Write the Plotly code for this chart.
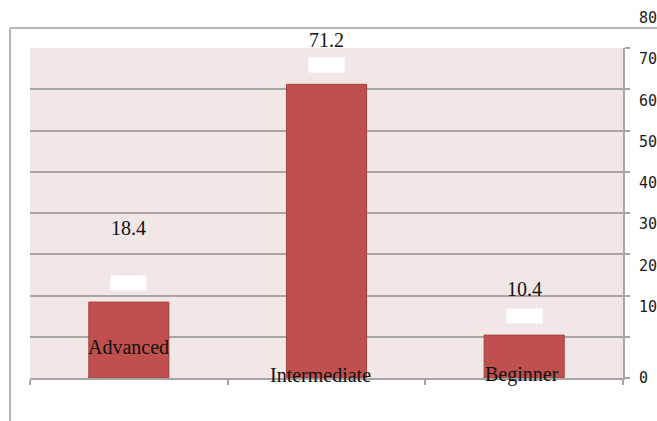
import plotly.graph_objects as go

categories = ["Advanced", "Intermediate", "Beginner"]
values = [18.4, 71.2, 10.4]
value_labels = ["18.4", "71.2", "10.4"]
tick_values = [0, 10, 20, 30, 40, 50, 60, 70, 80]
tick_labels = ["0", "10", "20", "30", "40", "50", "60", "70", "80"]

# style offsets (pixels) reproducing the reference's placement
value_label_shift = [74, 44, 46]
cat_label_shift = [31, 3, 4]
cat_label_xshift = [0, -6, -2]

GRID = "#A6A6A6"
SERIF = "Liberation Serif"

fig = go.Figure()
fig.add_trace(go.Bar(
    x=categories, y=values, width=0.405,
    marker=dict(color="#C0504D", line=dict(color="#A4403D", width=1)),
    hoverinfo="skip",
))

ann = []
for c, v, t, s in zip(categories, values, value_labels, value_label_shift):
    ann.append(dict(x=c, y=v, xref="x", yref="y", text=t, showarrow=False,
                    yshift=s, font=dict(family=SERIF, size=20, color="#111111")))
    ann.append(dict(x=c, y=v, xref="x", yref="y", text=" ", showarrow=False,
                    yshift=19, width=35, height=14, bgcolor="white", borderpad=0))
for c, s, xs in zip(categories, cat_label_shift, cat_label_xshift):
    ann.append(dict(x=c, y=0, xref="x", yref="y", text=c, showarrow=False,
                    yshift=s, xshift=xs,
                    font=dict(family=SERIF, size=20, color="#111111")))
for tv, tl in zip(tick_values, tick_labels):
    ann.append(dict(x=1, y=tv, xref="paper", yref="y", text=tl, showarrow=False,
                    xanchor="left", xshift=14, yshift=(0 if tv == 0 else 30),
                    font=dict(family="DejaVu Sans Mono", size=15, color="#1A1A1A")))

fig.update_layout(
    width=657, height=421,
    margin=dict(l=30, r=34, t=48, b=43),
    paper_bgcolor="white",
    plot_bgcolor="#F2E7E7",
    showlegend=False,
    annotations=ann,
    xaxis=dict(showticklabels=False, tickson="boundaries", ticks="outside",
               ticklen=5, tickcolor=GRID, tickwidth=2, showline=True,
               linecolor=GRID, linewidth=2, showgrid=False, zeroline=False),
    yaxis=dict(range=[0, 80], side="right", tickvals=tick_values,
               showticklabels=False, ticks="outside", ticklen=5,
               tickcolor=GRID, tickwidth=2, showgrid=True, gridcolor=GRID,
               gridwidth=2, showline=True, linecolor=GRID, linewidth=2,
               zeroline=False),
    shapes=[
        dict(type="line", xref="paper", yref="paper", x0=-0.0337, x1=1.06,
             y0=1.0606, y1=1.0606, line=dict(color="#B5B5B5", width=2)),
        dict(type="line", xref="paper", yref="paper", x0=-0.0337, x1=-0.0337,
             y0=1.0606, y1=-0.14, line=dict(color="#B5B5B5", width=2)),
    ],
)

fig.write_html("out.html")
